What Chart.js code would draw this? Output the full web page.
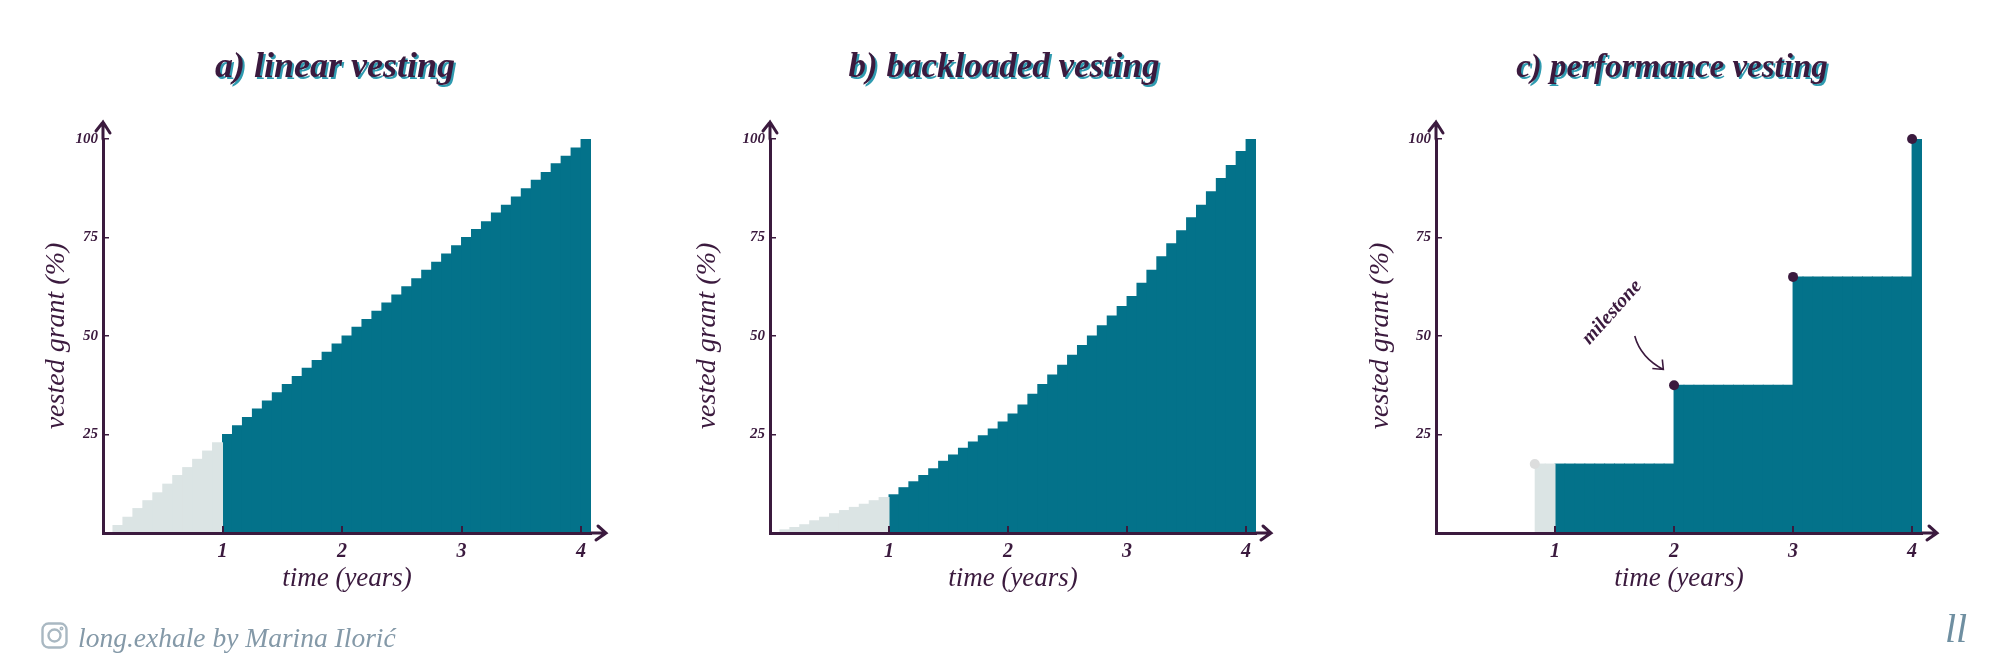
<!DOCTYPE html>
<html>
<head>
<meta charset="utf-8">
<style>
  html, body { margin: 0; background: #fff; width: 2000px; height: 667px; overflow: hidden; }
  canvas { position: absolute; top: 0; }
  .sign { position: absolute; font-family: "Liberation Serif", serif; font-style: italic; color: #8499a8; white-space: nowrap; }
  #insta { position: absolute; left: 41px; top: 622px; }
</style>
<script src="https://cdn.jsdelivr.net/npm/chart.js@4"></script>
</head>
<body>
<canvas id="chartA" width="670" height="667" style="left:0"></canvas>
<canvas id="chartB" width="680" height="667" style="left:664px"></canvas>
<canvas id="chartC" width="656" height="667" style="left:1344px"></canvas>
<svg id="insta" width="27" height="27" viewBox="0 0 27 27" fill="none" stroke="#a9b8c2" stroke-width="2.4">
  <rect x="1.5" y="1.5" width="24" height="24" rx="6"/>
  <circle cx="13.5" cy="13.5" r="6"/>
  <circle cx="20.5" cy="6.5" r="0.8"/>
</svg>
<div class="sign" style="left:78px;top:622px;font-size:27.5px">long.exhale by Marina Ilorić</div>
<div class="sign" style="left:1945px;top:605px;font-size:40px;color:#6f8fa1">ll</div>

<script>
const INK = '#3b1a3e';
const TEAL = '#03728a';
const PALE = '#dbe4e4';
const SERIF = '"Liberation Serif", serif';

// bars are monthly, month m covers m/12 .. (m+1)/12 years
const months = [1,2,3,4,5,6,7,8,9,10,11,12,13,14,15,16,17,18,19,20,21,22,23,24,
  25,26,27,28,29,30,31,32,33,34,35,36,37,38,39,40,41,42,43,44,45,46,47,48];
const cliffMonth = 12;

const linearValues = [1.9,4,6.2,8.2,10.2,12.4,14.6,16.6,18.7,20.8,22.9,25,
  27.2,29.3,31.5,33.5,35.6,37.7,39.7,41.8,43.8,45.9,48,50,
  52.2,54.2,56.3,58.4,60.4,62.5,64.5,66.7,68.7,70.8,72.9,75,
  77,79,81.2,83.2,85.3,87.4,89.5,91.5,93.7,95.6,97.7,100];
const backloadedValues = [0.8,1.4,2.1,3.1,4,4.9,5.7,6.5,7.3,8.2,9,9.7,
  11.5,13,14.6,16.3,18.2,19.8,21.5,23.1,24.7,26.4,28.2,30.2,
  32.5,35.2,37.7,40.1,42.6,45.1,47.6,50,52.6,55.1,57.5,60,
  63.4,66.7,70.1,73.4,76.7,80,83.2,86.6,90,93.3,96.8,100];
const performanceValues = [0,0,0,0,0,0,0,0,0,17.5,17.5,17.5,
  17.5,17.5,17.5,17.5,17.5,17.5,17.5,17.5,17.5,17.5,17.5,37.5,
  37.5,37.5,37.5,37.5,37.5,37.5,37.5,37.5,37.5,37.5,37.5,65,
  65,65,65,65,65,65,65,65,65,65,65,100];

const milestoneYears = [2, 3, 4];
const milestoneVested = [37.5, 65, 100];
const earlyMilestone = [{ x: 0.83, y: 17.5 }];

const titles = ['a) linear vesting', 'b) backloaded vesting', 'c) performance vesting'];
const xTitle = 'time (years)';
const yTitle = 'vested grant (%)';
const yearTicks = [1, 2, 3, 4];
const percentTicks = [25, 50, 75, 100];

// arrow tips that continue both axes past the plot area
const axisArrows = {
  id: 'axisArrows',
  afterDraw(chart) {
    const { ctx, chartArea: a } = chart;
    ctx.save();
    ctx.strokeStyle = INK;
    ctx.lineWidth = 3;
    ctx.lineCap = 'round';
    ctx.beginPath();
    ctx.moveTo(a.right, a.bottom);
    ctx.lineTo(a.right + 15, a.bottom);
    ctx.moveTo(a.right + 7, a.bottom - 7);
    ctx.lineTo(a.right + 15, a.bottom);
    ctx.lineTo(a.right + 5, a.bottom + 7);
    ctx.moveTo(a.left, a.top);
    ctx.lineTo(a.left, a.top - 17);
    ctx.moveTo(a.left - 7, a.top - 8);
    ctx.lineTo(a.left, a.top - 17);
    ctx.lineTo(a.left + 7, a.top - 6);
    ctx.stroke();
    ctx.restore();
  }
};

// teal offset copy of the title, and the title moved to its own centre
function titleStyler(center) {
  return {
    id: 'titleStyler',
    afterLayout(chart) {
      chart.titleBlock.left = center - 300;
      chart.titleBlock.right = center + 300;
    },
    beforeDraw(chart) {
      const t = chart.titleBlock;
      const font = t.options.font;
      const pad = t.options.padding;
      const { ctx } = chart;
      ctx.save();
      ctx.font = `${font.style} ${font.weight} ${font.size}px ${font.family}`;
      ctx.fillStyle = '#2f9bb0';
      ctx.textAlign = 'center';
      ctx.textBaseline = 'middle';
      ctx.fillText(t.options.text, center + 2, t.top + pad.top + (t.height - pad.top - pad.bottom) / 2 + 2);
      ctx.restore();
    }
  };
}

// hand note pointing at the first milestone of chart c
const milestoneNote = {
  id: 'milestoneNote',
  afterDraw(chart) {
    const { ctx, scales: { x, y } } = chart;
    ctx.save();
    ctx.fillStyle = INK;
    ctx.translate(x.getPixelForValue(1.48), y.getPixelForValue(56));
    ctx.rotate(-48 * Math.PI / 180);
    ctx.font = 'italic bold 20px ' + SERIF;
    ctx.textAlign = 'center';
    ctx.textBaseline = 'middle';
    ctx.fillText('milestone', 0, 0);
    ctx.restore();

    const ex = x.getPixelForValue(1.91), ey = y.getPixelForValue(41.5);
    ctx.save();
    ctx.strokeStyle = INK;
    ctx.lineWidth = 1.6;
    ctx.beginPath();
    ctx.moveTo(x.getPixelForValue(1.67), y.getPixelForValue(50));
    ctx.quadraticCurveTo(x.getPixelForValue(1.72), y.getPixelForValue(44.5), ex, ey);
    ctx.moveTo(ex - 1, ey - 10);
    ctx.lineTo(ex, ey);
    ctx.lineTo(ex - 11, ey - 1);
    ctx.stroke();
    ctx.restore();
  }
};

function barPoints(values, keep) {
  return months
    .map((m, i) => ({ m, x: (m + 0.5) / 12, y: values[i] }))
    .filter(p => p.y > 0 && keep(p.m));
}

function makePanel(id, title, titleCenter, titleSize, values, yAxisWidth, yTitleX, rightPad, extraDatasets, extraPlugins) {
  const datasets = [
    { label: 'unvested', data: barPoints(values, m => m < cliffMonth), backgroundColor: PALE, grouped: false, borderWidth: 0, inflateAmount: 0.5, order: 2 },
    { label: 'vested', data: barPoints(values, m => m >= cliffMonth), backgroundColor: TEAL, grouped: false, borderWidth: 0, inflateAmount: 0.5, order: 2 }
  ].concat(extraDatasets);
  const titleLine = titleSize * 1.2;

  return new Chart(document.getElementById(id), {
    type: 'bar',
    data: { datasets },
    plugins: [titleStyler(titleCenter), axisArrows].concat(extraPlugins),
    options: {
      responsive: false,
      animation: false,
      barPercentage: 1,
      categoryPercentage: 1,
      layout: { padding: { left: 0, right: rightPad, top: 0, bottom: 0 } },
      plugins: {
        legend: { display: false },
        tooltip: { enabled: false },
        title: {
          display: true,
          text: title,
          color: INK,
          font: { family: SERIF, style: 'italic', weight: 'bold', size: titleSize, lineHeight: 1.2 },
          padding: { top: 68 - titleLine / 2, bottom: 71 - titleLine / 2 }
        }
      },
      scales: {
        x: {
          type: 'linear',
          offset: false,
          min: 0,
          max: 49 / 12,
          afterBuildTicks: s => { s.ticks = yearTicks.map(value => ({ value })); },
          afterFit: s => { s.height = 134; },
          border: { color: INK, width: 3, z: 2 },
          grid: { offset: false, drawOnChartArea: false, color: INK, lineWidth: 2, tickLength: -7, z: 1 },
          ticks: { color: INK, autoSkip: false, font: { family: SERIF, style: 'italic', weight: 'bold', size: 20 }, padding: 14, maxRotation: 0 },
          title: { display: true, text: xTitle, color: INK, font: { family: SERIF, style: 'italic', size: 27, lineHeight: 1.2 }, padding: { top: 0, bottom: 72 } }
        },
        y: {
          min: 0,
          max: 100,
          afterBuildTicks: s => { s.ticks = percentTicks.map(value => ({ value })); },
          afterFit: s => { s.width = yAxisWidth; },
          border: { color: INK, width: 3, z: 2 },
          grid: { drawOnChartArea: false, color: INK, lineWidth: 1.5, tickLength: -6, z: 1 },
          ticks: { color: INK, font: { family: SERIF, style: 'italic', weight: 'bold', size: 15 }, padding: 11 },
          title: { display: true, text: yTitle, color: INK, font: { family: SERIF, style: 'italic', size: 28, lineHeight: 1.2 }, padding: { top: yTitleX - 17, bottom: 0 } }
        }
      }
    }
  });
}

makePanel('chartA', titles[0], 335, 36, linearValues, 103, 57, 79, [], []);
makePanel('chartB', titles[1], 340, 35, backloadedValues, 106, 44, 88, [], []);
makePanel('chartC', titles[2], 328, 33, performanceValues, 92, 37, 78, [
  {
    type: 'scatter', label: 'milestones', order: 1, clip: false,
    data: milestoneYears.map((x, i) => ({ x, y: milestoneVested[i] })),
    backgroundColor: INK, pointRadius: 5, borderWidth: 0
  },
  {
    type: 'scatter', label: 'early milestone', order: 1, clip: false,
    data: earlyMilestone,
    backgroundColor: '#dcdddd', pointRadius: 5, borderWidth: 0
  }
], [milestoneNote]);
</script>
</body>
</html>
